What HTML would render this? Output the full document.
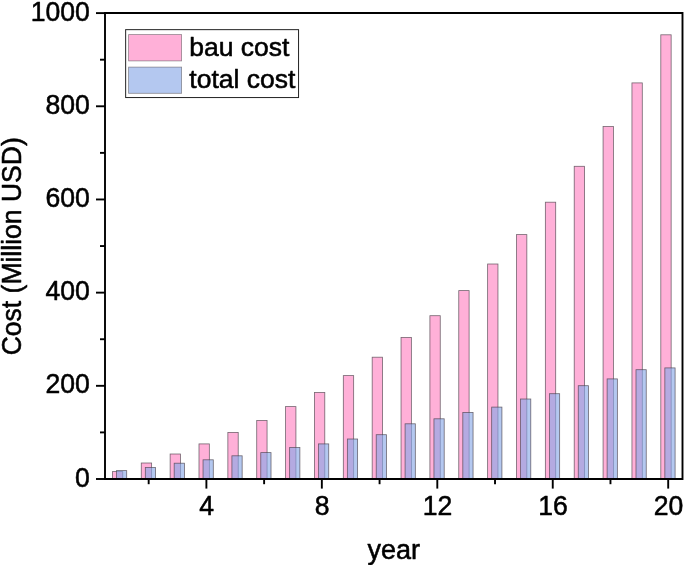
<!DOCTYPE html>
<html><head><meta charset="utf-8"><title>Cost chart</title>
<style>html,body{margin:0;padding:0;background:#fff}svg{display:block}text{font-family:"Liberation Sans",Arial,sans-serif;fill:#000}</style></head><body>
<svg width="685" height="565" viewBox="0 0 685 565">
<rect width="685" height="565" fill="#fff"/>
<g stroke="rgba(70,60,70,0.75)" stroke-width="0.8">
<rect x="112.40" y="471.60" width="10.35" height="7.40" fill="#ffb0d8"/>
<rect x="141.27" y="463.00" width="10.35" height="16.00" fill="#ffb0d8"/>
<rect x="170.13" y="454.00" width="10.35" height="25.00" fill="#ffb0d8"/>
<rect x="198.99" y="443.90" width="10.35" height="35.10" fill="#ffb0d8"/>
<rect x="227.86" y="432.40" width="10.35" height="46.60" fill="#ffb0d8"/>
<rect x="256.72" y="420.50" width="10.35" height="58.50" fill="#ffb0d8"/>
<rect x="285.58" y="406.60" width="10.35" height="72.40" fill="#ffb0d8"/>
<rect x="314.44" y="392.50" width="10.35" height="86.50" fill="#ffb0d8"/>
<rect x="343.31" y="375.60" width="10.35" height="103.40" fill="#ffb0d8"/>
<rect x="372.17" y="357.20" width="10.35" height="121.80" fill="#ffb0d8"/>
<rect x="401.03" y="337.40" width="10.35" height="141.60" fill="#ffb0d8"/>
<rect x="429.90" y="315.70" width="10.35" height="163.30" fill="#ffb0d8"/>
<rect x="458.76" y="290.60" width="10.35" height="188.40" fill="#ffb0d8"/>
<rect x="487.62" y="264.00" width="10.35" height="215.00" fill="#ffb0d8"/>
<rect x="516.49" y="234.60" width="10.35" height="244.40" fill="#ffb0d8"/>
<rect x="545.35" y="202.20" width="10.35" height="276.80" fill="#ffb0d8"/>
<rect x="574.21" y="166.30" width="10.35" height="312.70" fill="#ffb0d8"/>
<rect x="603.07" y="126.50" width="10.35" height="352.50" fill="#ffb0d8"/>
<rect x="631.94" y="82.90" width="10.35" height="396.10" fill="#ffb0d8"/>
<rect x="660.80" y="34.80" width="10.35" height="444.20" fill="#ffb0d8"/>
<rect x="116.45" y="470.60" width="10.25" height="8.40" fill="rgba(134,166,231,0.62)"/>
<rect x="145.32" y="467.40" width="10.25" height="11.60" fill="rgba(134,166,231,0.62)"/>
<rect x="174.18" y="463.20" width="10.25" height="15.80" fill="rgba(134,166,231,0.62)"/>
<rect x="203.04" y="459.80" width="10.25" height="19.20" fill="rgba(134,166,231,0.62)"/>
<rect x="231.91" y="455.80" width="10.25" height="23.20" fill="rgba(134,166,231,0.62)"/>
<rect x="260.77" y="452.60" width="10.25" height="26.40" fill="rgba(134,166,231,0.62)"/>
<rect x="289.63" y="447.40" width="10.25" height="31.60" fill="rgba(134,166,231,0.62)"/>
<rect x="318.49" y="443.90" width="10.25" height="35.10" fill="rgba(134,166,231,0.62)"/>
<rect x="347.36" y="439.00" width="10.25" height="40.00" fill="rgba(134,166,231,0.62)"/>
<rect x="376.22" y="434.70" width="10.25" height="44.30" fill="rgba(134,166,231,0.62)"/>
<rect x="405.08" y="423.80" width="10.25" height="55.20" fill="rgba(134,166,231,0.62)"/>
<rect x="433.95" y="418.80" width="10.25" height="60.20" fill="rgba(134,166,231,0.62)"/>
<rect x="462.81" y="412.40" width="10.25" height="66.60" fill="rgba(134,166,231,0.62)"/>
<rect x="491.67" y="407.10" width="10.25" height="71.90" fill="rgba(134,166,231,0.62)"/>
<rect x="520.53" y="399.00" width="10.25" height="80.00" fill="rgba(134,166,231,0.62)"/>
<rect x="549.40" y="393.70" width="10.25" height="85.30" fill="rgba(134,166,231,0.62)"/>
<rect x="578.26" y="385.70" width="10.25" height="93.30" fill="rgba(134,166,231,0.62)"/>
<rect x="607.12" y="378.90" width="10.25" height="100.10" fill="rgba(134,166,231,0.62)"/>
<rect x="635.99" y="369.70" width="10.25" height="109.30" fill="rgba(134,166,231,0.62)"/>
<rect x="664.85" y="367.90" width="10.25" height="111.10" fill="rgba(134,166,231,0.62)"/>
</g>
<g stroke="#000" stroke-width="1.9" fill="none">
<path d="M105 13.05 H682.5 V479 H105 Z"/>
<path d="M96 479.00 H105"/>
<path d="M100 432.41 H105"/>
<path d="M96 385.82 H105"/>
<path d="M100 339.23 H105"/>
<path d="M96 292.64 H105"/>
<path d="M100 246.05 H105"/>
<path d="M96 199.46 H105"/>
<path d="M100 152.87 H105"/>
<path d="M96 106.28 H105"/>
<path d="M100 59.69 H105"/>
<path d="M96 13.10 H105"/>
<path d="M148.67 479 V484.2"/>
<path d="M206.39 479 V488.6"/>
<path d="M264.12 479 V484.2"/>
<path d="M321.84 479 V488.6"/>
<path d="M379.57 479 V484.2"/>
<path d="M437.30 479 V488.6"/>
<path d="M495.02 479 V484.2"/>
<path d="M552.75 479 V488.6"/>
<path d="M610.47 479 V484.2"/>
<path d="M668.20 479 V488.6"/>
</g>
<g font-size="26.5" stroke="#000" stroke-width="0.55" stroke-linejoin="round">
<text transform="translate(89.9 486.50) scale(0.95 1)" font-size="28.0" text-anchor="end">0</text>
<text transform="translate(89.9 393.32) scale(0.95 1)" font-size="28.0" text-anchor="end">200</text>
<text transform="translate(89.9 300.14) scale(0.95 1)" font-size="28.0" text-anchor="end">400</text>
<text transform="translate(89.9 206.96) scale(0.95 1)" font-size="28.0" text-anchor="end">600</text>
<text transform="translate(89.9 113.78) scale(0.95 1)" font-size="28.0" text-anchor="end">800</text>
<text transform="translate(89.9 20.60) scale(0.95 1)" font-size="28.0" text-anchor="end">1000</text>
<text transform="translate(206.69 514.8) scale(0.95 1)" font-size="28.0" text-anchor="middle">4</text>
<text transform="translate(322.14 514.8) scale(0.95 1)" font-size="28.0" text-anchor="middle">8</text>
<text transform="translate(437.60 514.8) scale(0.95 1)" font-size="28.0" text-anchor="middle">12</text>
<text transform="translate(553.05 514.8) scale(0.95 1)" font-size="28.0" text-anchor="middle">16</text>
<text transform="translate(668.50 514.8) scale(0.95 1)" font-size="28.0" text-anchor="middle">20</text>
<text x="393.7" y="558.5" font-size="27" text-anchor="middle">year</text>
<text transform="translate(21.1 246.3) rotate(-90) scale(0.975 1)" font-size="27.2" text-anchor="middle">Cost (Million USD)</text>
<rect x="125.65" y="29.65" width="172.9" height="67.9" fill="#fff" stroke="#222" stroke-width="1" stroke-linejoin="miter"/>
<rect x="128.6" y="34.6" width="53" height="26.3" fill="#ffb0d8" stroke="rgba(80,75,80,0.6)" stroke-width="0.8" stroke-linejoin="miter"/>
<rect x="128.6" y="67.1" width="53" height="26.2" fill="rgba(134,166,231,0.62)" stroke="rgba(80,75,80,0.6)" stroke-width="0.8" stroke-linejoin="miter"/>
<text x="189.3" y="55.9">bau cost</text>
<text x="189.3" y="88.0">total cost</text>
</g>
</svg></body></html>
